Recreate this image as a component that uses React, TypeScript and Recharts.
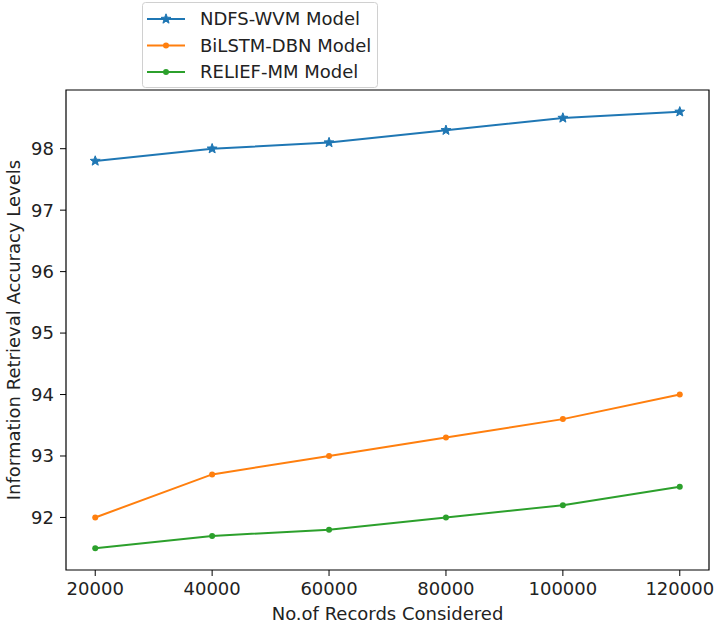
import React from "react";
import { LineChart, Line, XAxis, YAxis, ReferenceArea } from "recharts";

const records = [20000, 40000, 60000, 80000, 100000, 120000];
const ndfsWvm = [97.8, 98.0, 98.1, 98.3, 98.5, 98.6];
const bilstmDbn = [92.0, 92.7, 93.0, 93.3, 93.6, 94.0];
const reliefMm = [91.5, 91.7, 91.8, 92.0, 92.2, 92.5];
const xTicks = [20000, 40000, 60000, 80000, 100000, 120000];
const yTicks = [92, 93, 94, 95, 96, 97, 98];

const seriesInfo = [
  { key: "ndfs", name: "NDFS-WVM Model", color: "#1f77b4", star: true },
  { key: "bilstm", name: "BiLSTM-DBN Model", color: "#ff7f0e", star: false },
  { key: "relief", name: "RELIEF-MM Model", color: "#2ca02c", star: false },
];

const data = records.map((r, i) => ({
  x: r,
  ndfs: ndfsWvm[i],
  bilstm: bilstmDbn[i],
  relief: reliefMm[i],
}));

const FONT = "'DejaVu Sans', sans-serif";
const FS = 18;
const X_DOMAIN: [number, number] = [15000, 125000];
const Y_DOMAIN: [number, number] = [91.145, 98.955];

function starPath(cx: number, cy: number, R: number, r: number) {
  let d = "";
  for (let i = 0; i < 10; i++) {
    const rad = i % 2 === 0 ? R : r;
    const a = -Math.PI / 2 + (i * Math.PI) / 5;
    const px = cx + rad * Math.cos(a);
    const py = cy + rad * Math.sin(a);
    d += (i === 0 ? "M" : "L") + px.toFixed(2) + "," + py.toFixed(2);
  }
  return d + "Z";
}

const StarDot = (props: any) => {
  const { cx, cy, index } = props;
  if (cx == null || cy == null) return <g key={index} />;
  return <path key={index} d={starPath(cx, cy, 5.2, 2.2)} fill="#1f77b4" stroke="#1f77b4" strokeWidth={1} />;
};

const LegendBox = () => (
  <svg width={238} height={90} style={{ display: "block" }}>
    <rect x={0.5} y={2.5} width={235} height={85} rx={3} fill="#fff" stroke="#d0d0d0" strokeWidth={1} />
    {seriesInfo.map((s, i) => {
      const y = 19 + i * 26.5;
      return (
        <g key={s.key}>
          <line x1={5} x2={43} y1={y} y2={y} stroke={s.color} strokeWidth={2} />
          {s.star ? (
            <path d={starPath(24, y, 5.2, 2.2)} fill={s.color} stroke={s.color} />
          ) : (
            <circle cx={24} cy={y} r={3} fill={s.color} />
          )}
          <text x={58} y={y} dy="0.36em" fontFamily={FONT} fontSize={FS} fill="#222">
            {s.name}
          </text>
        </g>
      );
    })}
  </svg>
);

export default function App() {
  return (
    <div style={{ position: "absolute", left: 0, top: 0, width: 720, height: 626, background: "#fff" }}>
      <LineChart width={720} height={626} data={data} margin={{ top: 90, right: 11, bottom: 0, left: 0 }}>
        <XAxis
          dataKey="x"
          type="number"
          domain={X_DOMAIN}
          ticks={xTicks}
          allowDataOverflow
          stroke="#000"
          tickSize={6}
          tickMargin={6}
          tick={{ fill: "#222", fontFamily: FONT, fontSize: FS }}
          tickLine={{ stroke: "#000" }}
          axisLine={false}
          height={56}
          label={{ value: "No.of Records Considered", position: "insideBottom", offset: 6, fill: "#222", fontFamily: FONT, fontSize: FS }}
        />
        <YAxis
          type="number"
          domain={Y_DOMAIN}
          ticks={yTicks}
          allowDataOverflow
          stroke="#000"
          tickSize={6}
          tickMargin={6}
          width={66}
          tick={{ fill: "#222", fontFamily: FONT, fontSize: FS }}
          tickLine={{ stroke: "#000" }}
          axisLine={false}
          label={{
            value: "Information Retrieval Accuracy Levels",
            angle: -90,
            position: "insideLeft",
            offset: 0,
            dx: 14,
            style: { textAnchor: "middle", fill: "#222", fontFamily: FONT, fontSize: FS },
          }}
        />
        <ReferenceArea
          x1={X_DOMAIN[0]}
          x2={X_DOMAIN[1]}
          y1={Y_DOMAIN[0]}
          y2={Y_DOMAIN[1]}
          fill="none"
          stroke="#000"
          strokeWidth={1.2}
          ifOverflow="visible"
        />
        <Line
          dataKey="ndfs"
          name="NDFS-WVM Model"
          stroke="#1f77b4"
          strokeWidth={2}
          dot={StarDot}
          activeDot={false}
          isAnimationActive={false}
        />
        <Line
          dataKey="bilstm"
          name="BiLSTM-DBN Model"
          stroke="#ff7f0e"
          strokeWidth={2}
          dot={{ r: 3, fill: "#ff7f0e", stroke: "#ff7f0e", strokeWidth: 0 }}
          activeDot={false}
          isAnimationActive={false}
        />
        <Line
          dataKey="relief"
          name="RELIEF-MM Model"
          stroke="#2ca02c"
          strokeWidth={2}
          dot={{ r: 3, fill: "#2ca02c", stroke: "#2ca02c", strokeWidth: 0 }}
          activeDot={false}
          isAnimationActive={false}
        />
      </LineChart>
      <div style={{ position: "absolute", left: 142, top: 0 }}>
        <LegendBox />
      </div>
    </div>
  );
}
